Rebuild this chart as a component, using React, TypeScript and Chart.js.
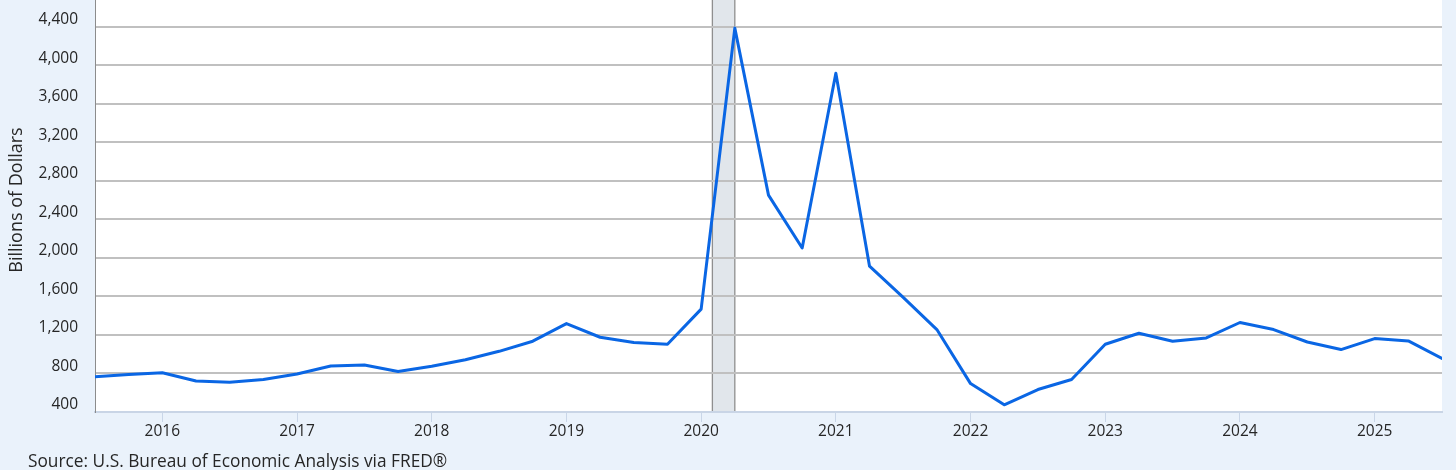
import React, { useEffect, useRef } from "react";
import { Chart, registerables } from "chart.js";

Chart.register(...registerables);

// ---- data ----
const quarters = [
  "2015-07-01", "2015-10-01",
  "2016-01-01", "2016-04-01", "2016-07-01", "2016-10-01",
  "2017-01-01", "2017-04-01", "2017-07-01", "2017-10-01",
  "2018-01-01", "2018-04-01", "2018-07-01", "2018-10-01",
  "2019-01-01", "2019-04-01", "2019-07-01", "2019-10-01",
  "2020-01-01", "2020-04-01", "2020-07-01", "2020-10-01",
  "2021-01-01", "2021-04-01", "2021-07-01", "2021-10-01",
  "2022-01-01", "2022-04-01", "2022-07-01", "2022-10-01",
  "2023-01-01", "2023-04-01", "2023-07-01", "2023-10-01",
  "2024-01-01", "2024-04-01", "2024-07-01", "2024-10-01",
  "2025-01-01", "2025-04-01", "2025-07-01",
];

const seriesValues = [
  765, 789,
  808, 722, 709, 737,
  795, 878, 888, 820,
  874, 942, 1030, 1135,
  1318, 1176, 1121, 1103,
  1468, 4385, 2651, 2103,
  3917, 1914, 1590, 1256,
  695, 475, 633, 737,
  1103, 1218, 1134, 1169,
  1329, 1256, 1127, 1048,
  1162, 1138, 955,
];

const xTickYears = [2016, 2017, 2018, 2019, 2020, 2021, 2022, 2023, 2024, 2025];
const yTickValues = [400, 800, 1200, 1600, 2000, 2400, 2800, 3200, 3600, 4000, 4400];
const recessionStart = "2020-02-01";
const recessionEnd = "2020-04-01";
const xStart = "2015-07-01";
const xEnd = "2025-07-01";
const yMin = 400;
const yMax = 4677;
const yAxisTitle = "Billions of Dollars";
const sourceText = "Source: U.S. Bureau of Economic Analysis via FRED®";

// ---- styles ----
const FONT = "'Open Sans', sans-serif";
const BG = "#eaf2fb";
const LINE = "#0a66e4";
const TEXT = "#262626";
const GRID = "#c0c0c0";

function toYear(d: string): number {
  const [y, m] = d.split("-").map(Number);
  return y + (m - 1) / 12;
}

const decorPlugin = {
  id: "decor",
  beforeDraw(chart: any) {
    const { ctx, chartArea, scales } = chart;
    ctx.save();
    ctx.fillStyle = "#ffffff";
    ctx.fillRect(chartArea.left, chartArea.top, chartArea.right - chartArea.left, chartArea.bottom - chartArea.top);
    const x0 = scales.x.getPixelForValue(toYear(recessionStart));
    const x1 = scales.x.getPixelForValue(toYear(recessionEnd));
    ctx.fillStyle = "#e1e6eb";
    ctx.fillRect(x0, chartArea.top, x1 - x0, chartArea.bottom - chartArea.top);
    ctx.strokeStyle = "#8f8f8f";
    ctx.lineWidth = 1.3;
    ctx.beginPath();
    ctx.moveTo(x0, chartArea.top);
    ctx.lineTo(x0, chartArea.bottom);
    ctx.moveTo(x1, chartArea.top);
    ctx.lineTo(x1, chartArea.bottom);
    ctx.stroke();
    ctx.restore();
  },
  afterDraw(chart: any) {
    const { ctx } = chart;
    ctx.save();
    ctx.fillStyle = TEXT;
    ctx.font = `17.3px ${FONT}`;
    ctx.textAlign = "left";
    ctx.textBaseline = "alphabetic";
    ctx.fillText(sourceText, 28, 467);
    ctx.translate(22, 200);
    ctx.rotate(-Math.PI / 2);
    ctx.font = `18px ${FONT}`;
    ctx.textAlign = "center";
    ctx.fillText(yAxisTitle, 0, 0);
    ctx.restore();
  },
};

export default function App() {
  const ref = useRef<HTMLCanvasElement | null>(null);

  useEffect(() => {
    if (!ref.current) return;
    const points = quarters.map((q, i) => ({ x: toYear(q), y: seriesValues[i] }));
    const chart = new Chart(ref.current, {
      type: "line",
      data: {
        datasets: [
          {
            data: points,
            borderColor: LINE,
            borderWidth: 3,
            borderJoinStyle: "round",
            borderCapStyle: "round",
            pointRadius: 0,
            tension: 0,
            fill: false,
          },
        ],
      },
      options: {
        animation: false,
        responsive: false,
        events: [],
        layout: { padding: { top: 0, right: 14, bottom: 0, left: 0 } },
        plugins: { legend: { display: false }, tooltip: { enabled: false } },
        scales: {
          x: {
            type: "linear",
            min: toYear(xStart),
            max: toYear(xEnd),
            afterBuildTicks: (s: any) => {
              s.ticks = xTickYears.map((v) => ({ value: v }));
            },
            afterFit: (s: any) => {
              s.height = 58;
              s.paddingLeft = 0;
              s.paddingRight = 0;
            },
            ticks: {
              callback: (v: any) => String(v),
              font: { family: FONT, size: 15.5 },
              color: TEXT,
              padding: 0,
              maxRotation: 0,
              autoSkip: false,
            },
            grid: {
              drawOnChartArea: false,
              drawTicks: true,
              tickLength: 10,
              color: "#c9d6e8",
              lineWidth: 1,
            },
            border: { color: "#c9d5e6", width: 2 },
          },
          y: {
            type: "linear",
            min: yMin,
            max: yMax,
            afterBuildTicks: (s: any) => {
              s.ticks = yTickValues.map((v) => ({ value: v }));
            },
            afterFit: (s: any) => {
              s.width = 95;
              s.paddingTop = 0;
              s.paddingBottom = 0;
            },
            ticks: {
              callback: (v: any) => Number(v).toLocaleString("en-US"),
              font: { family: FONT, size: 15.5 },
              color: TEXT,
              padding: 17,
              labelOffset: -7,
            },
            grid: {
              drawTicks: false,
              color: (c: any) => (c.tick && c.tick.value === yMin ? "rgba(0,0,0,0)" : GRID),
              lineWidth: 2,
            },
            border: { color: "#8c8c8c", width: 1 },
          },
        },
      },
      plugins: [decorPlugin],
    } as any);
    return () => chart.destroy();
  }, []);

  return (
    <div style={{ position: "fixed", left: 0, top: 0, width: 1456, height: 470, background: BG, overflow: "hidden" }}>
      <canvas ref={ref} width={1456} height={470} style={{ display: "block", width: 1456, height: 470 }} />
    </div>
  );
}
